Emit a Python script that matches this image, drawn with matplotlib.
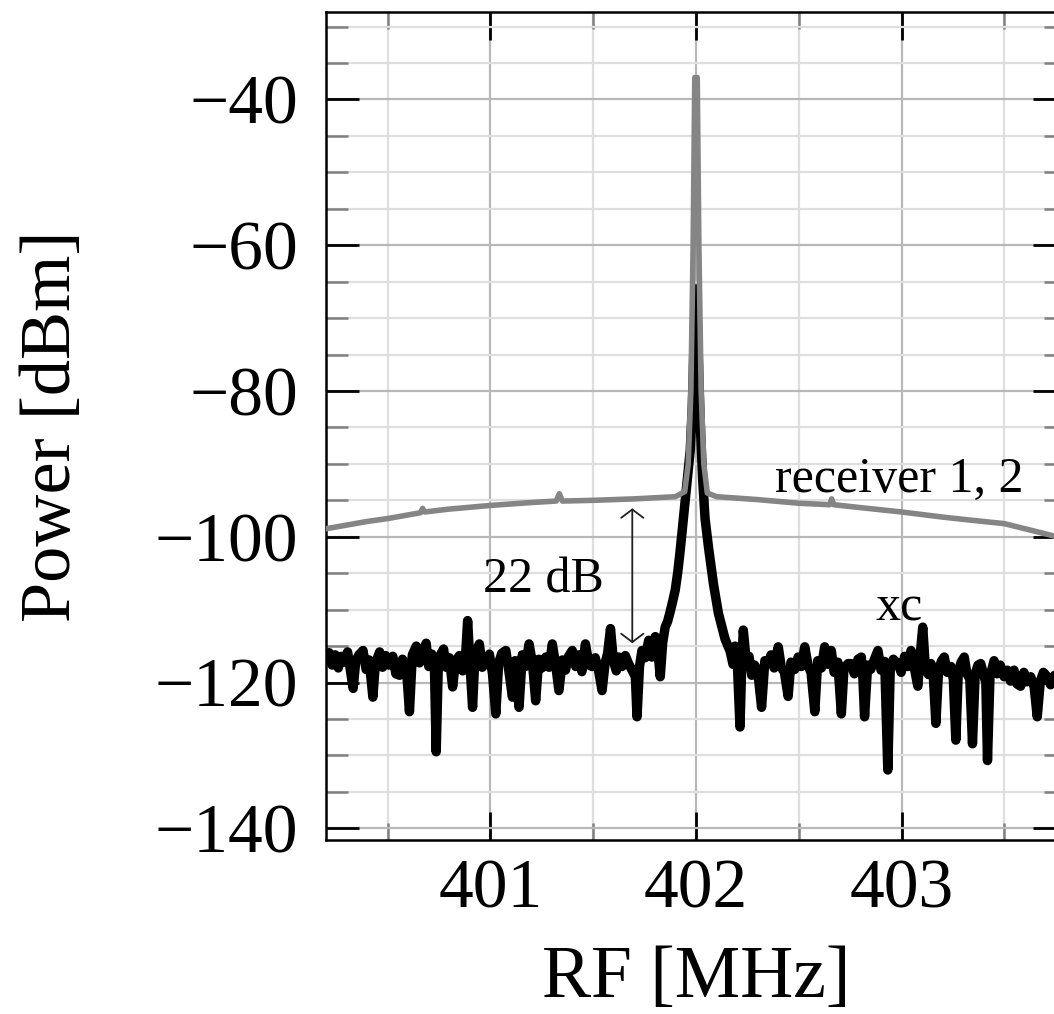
import matplotlib
matplotlib.use("Agg")
import matplotlib.pyplot as plt
from matplotlib.ticker import MultipleLocator

plt.rcParams['font.family'] = ['Liberation Serif', 'DejaVu Serif']

# ---------------- data ----------------
rx_freq = [400.20, 400.40, 400.50, 400.60, 400.66, 400.67, 400.68, 400.80, 401.00, 401.20,
           401.32, 401.335, 401.35, 401.50, 401.70, 401.90, 401.945, 401.962, 401.975,
           401.986, 401.994, 402.006, 402.014, 402.025, 402.038, 402.055, 402.10, 402.30,
           402.50, 402.65, 402.66, 402.67, 402.80, 403.00, 403.20, 403.33, 403.50, 403.70,
           403.80]
rx_power = [-98.9, -97.9, -97.5, -97.0, -96.7, -96.1, -96.6, -96.2, -95.7, -95.3,
            -95.1, -94.1, -95.1, -95.0, -94.8, -94.5, -93.8, -90.0, -80.0,
            -60.0, -37.0, -37.0, -60.0, -80.0, -90.0, -94.0, -94.5, -94.9,
            -95.4, -95.6, -94.8, -95.6, -96.0, -96.6, -97.3, -97.7, -98.2, -99.6,
            -100.3]

xc_freq = [400.200, 400.215, 400.230, 400.245, 400.260, 400.275, 400.290, 400.305, 400.320, 400.332,
           400.345, 400.360, 400.380, 400.395, 400.410, 400.428, 400.440, 400.461, 400.475, 400.490,
           400.505, 400.525, 400.540, 400.558, 400.572, 400.590, 400.606, 400.620, 400.639, 400.655,
           400.670, 400.687, 400.700, 400.715, 400.728, 400.736, 400.746, 400.760, 400.772, 400.784,
           400.800, 400.816, 400.830, 400.849, 400.865, 400.878, 400.889, 400.900, 400.913, 400.925,
           400.946, 400.960, 400.978, 400.995, 401.010, 401.026, 401.040, 401.055, 401.075, 401.090,
           401.107, 401.120, 401.139, 401.155, 401.170, 401.188, 401.205, 401.220, 401.235, 401.250,
           401.269, 401.285, 401.301, 401.318, 401.333, 401.350, 401.365, 401.380, 401.398, 401.415,
           401.430, 401.445, 401.462, 401.480, 401.495, 401.510, 401.525, 401.543, 401.558, 401.570,
           401.584, 401.598, 401.612, 401.624, 401.640, 401.656, 401.672, 401.690, 401.705, 401.713,
           401.725, 401.737, 401.752, 401.770, 401.785, 401.802, 401.815, 401.826, 401.838, 401.850,
           401.862, 401.875, 401.887, 401.899, 401.911, 401.923, 401.935, 401.947, 401.960, 401.972,
           401.982, 401.990, 401.996, 402.002, 402.010, 402.020, 402.032, 402.044, 402.061, 402.085,
           402.109, 402.141, 402.166, 402.180, 402.190, 402.202, 402.214, 402.222, 402.230, 402.245,
           402.258, 402.271, 402.285, 402.300, 402.319, 402.335, 402.351, 402.365, 402.380, 402.400,
           402.415, 402.430, 402.448, 402.462, 402.480, 402.497, 402.512, 402.529, 402.545, 402.560,
           402.578, 402.592, 402.610, 402.626, 402.642, 402.658, 402.672, 402.690, 402.707, 402.720,
           402.740, 402.755, 402.770, 402.788, 402.804, 402.812, 402.820, 402.835, 402.850, 402.868,
           402.885, 402.900, 402.918, 402.933, 402.945, 402.960, 402.982, 402.998, 403.015, 403.030,
           403.046, 403.062, 403.079, 403.090, 403.103, 403.115, 403.130, 403.143, 403.155, 403.167,
           403.180, 403.195, 403.208, 403.222, 403.240, 403.252, 403.264, 403.276, 403.290, 403.305,
           403.318, 403.332, 403.345, 403.358, 403.372, 403.385, 403.400, 403.410, 403.418, 403.430,
           403.450, 403.465, 403.480, 403.499, 403.515, 403.530, 403.547, 403.562, 403.579, 403.595,
           403.610, 403.628, 403.645, 403.660, 403.675, 403.690, 403.709, 403.725, 403.745, 403.770,
           403.800]
xc_power = [-116.8, -115.9, -117.6, -116.2, -118.0, -116.4, -117.2, -115.8, -118.6, -120.8,
            -117.0, -116.2, -115.6, -118.2, -116.9, -122.0, -117.4, -115.8, -117.9, -116.3,
            -117.6, -116.4, -118.8, -119.0, -116.8, -117.5, -124.0, -116.2, -115.0, -117.3,
            -116.0, -114.6, -117.8, -116.1, -118.5, -129.5, -118.0, -116.0, -115.4, -117.9,
            -116.6, -120.6, -117.1, -116.3, -118.4, -116.8, -111.5, -117.2, -123.4, -116.0,
            -114.7, -117.9, -117.3, -116.1, -118.8, -124.3, -117.3, -116.0, -115.6, -118.5,
            -122.0, -117.0, -123.4, -116.2, -117.8, -114.7, -117.5, -122.5, -116.8, -118.0,
            -116.5, -117.9, -114.7, -117.7, -121.1, -116.9, -118.3, -116.4, -115.6, -117.8,
            -116.2, -118.5, -114.7, -117.6, -117.8, -116.6, -118.2, -121.1, -117.3, -116.0,
            -112.6, -117.0, -118.4, -116.5, -117.8, -116.3, -117.4, -118.4, -119.2, -124.7,
            -117.8, -115.6, -116.6, -114.2, -116.5, -113.7, -115.8, -119.2, -114.5, -112.4,
            -111.6, -110.2, -108.8, -107.3, -104.9, -101.9, -98.5, -95.0, -91.5, -88.1,
            -82.0, -74.0, -67.0, -66.0, -74.0, -84.0, -92.0, -97.5, -101.5, -106.5,
            -110.5, -114.0, -115.7, -117.5, -115.0, -118.0, -126.1, -118.0, -112.8, -117.2,
            -116.4, -119.0, -117.6, -118.4, -123.4, -117.0, -117.4, -116.2, -118.0, -115.1,
            -117.9, -118.6, -121.9, -117.2, -118.2, -116.5, -117.8, -115.1, -117.6, -118.7,
            -124.0, -117.0, -118.0, -115.1, -117.5, -115.6, -118.6, -117.2, -124.3, -118.0,
            -117.4, -117.4, -118.8, -116.8, -116.5, -119.5, -124.7, -117.6, -118.2, -116.8,
            -115.6, -118.3, -117.1, -132.0, -118.0, -116.8, -117.4, -118.6, -116.4, -117.8,
            -115.6, -118.0, -120.5, -116.4, -112.4, -117.6, -118.9, -117.4, -119.4, -125.6,
            -118.2, -117.0, -116.5, -118.6, -117.8, -119.6, -127.9, -118.4, -117.2, -116.5,
            -118.8, -119.5, -128.4, -118.8, -117.6, -117.4, -119.0, -120.0, -130.7, -119.2,
            -117.0, -118.8, -117.6, -119.2, -118.3, -119.8, -118.3, -120.2, -120.5, -118.6,
            -119.9, -119.2, -120.6, -124.7, -119.8, -118.6, -119.2, -120.3, -119.0, -120.0,
            -119.5]

x_ticks = [401, 402, 403]
y_ticks = [-140, -120, -100, -80, -60, -40]

# ---------------- figure ----------------
fig = plt.figure(figsize=(10.54, 10.14), dpi=100)
ax = fig.add_axes([0.3093, 0.1716, 0.7021, 0.8166])

ax.plot(xc_freq, xc_power, color='black', lw=6.8, solid_joinstyle='round', zorder=3)
ax.plot(rx_freq, rx_power, color='#858585', lw=4.0, solid_joinstyle='round', zorder=4)

ax.set_xlim(400.2, 403.8)
ax.set_ylim(-141.6, -28.0)

ax.set_xticks(x_ticks)
ax.set_yticks(y_ticks)
ax.xaxis.set_minor_locator(MultipleLocator(0.5))
ax.yaxis.set_minor_locator(MultipleLocator(5))

ax.grid(which='major', color='#b8b8b8', lw=1.6, zorder=0)
ax.grid(which='minor', color='#dedede', lw=1.6, zorder=0)
ax.set_axisbelow(True)

ax.tick_params(axis='both', which='both', direction='in', top=True, right=True)
ax.tick_params(axis='x', which='major', length=20, width=2.0, color='black', pad=14, labelsize=50)
ax.tick_params(axis='x', which='minor', length=12, width=1.8, color='#808080')
ax.tick_params(axis='y', which='major', length=24, width=2.0, color='black', pad=20, labelsize=50)
ax.tick_params(axis='y', which='minor', length=16, width=1.8, color='#808080')

for s in ax.spines.values():
    s.set_linewidth(1.8)
    s.set_color('black')

ax.set_xlabel('RF [MHz]', fontsize=53)
ax.set_ylabel('Power [dBm]', fontsize=52)
ax.xaxis.set_label_coords(0.5, -0.128)
ax.yaxis.set_label_coords(-0.326, 0.5)

ax.text(402.99, -93.9, 'receiver 1, 2', fontsize=36, ha='center', va='baseline', zorder=5)
ax.text(402.99, -111.5, 'xc', fontsize=36, ha='center', va='baseline', zorder=5)
ax.text(401.26, -107.6, '22 dB', fontsize=36, ha='center', va='baseline', zorder=5)
ax.annotate('', xy=(401.69, -96.1), xytext=(401.69, -114.6),
            arrowprops=dict(arrowstyle='<->, head_length=0.6, head_width=0.8',
                            mutation_scale=10, color='#202020', lw=1.3,
                            shrinkA=0, shrinkB=0), zorder=5)

fig.savefig('out.png', dpi=100)
